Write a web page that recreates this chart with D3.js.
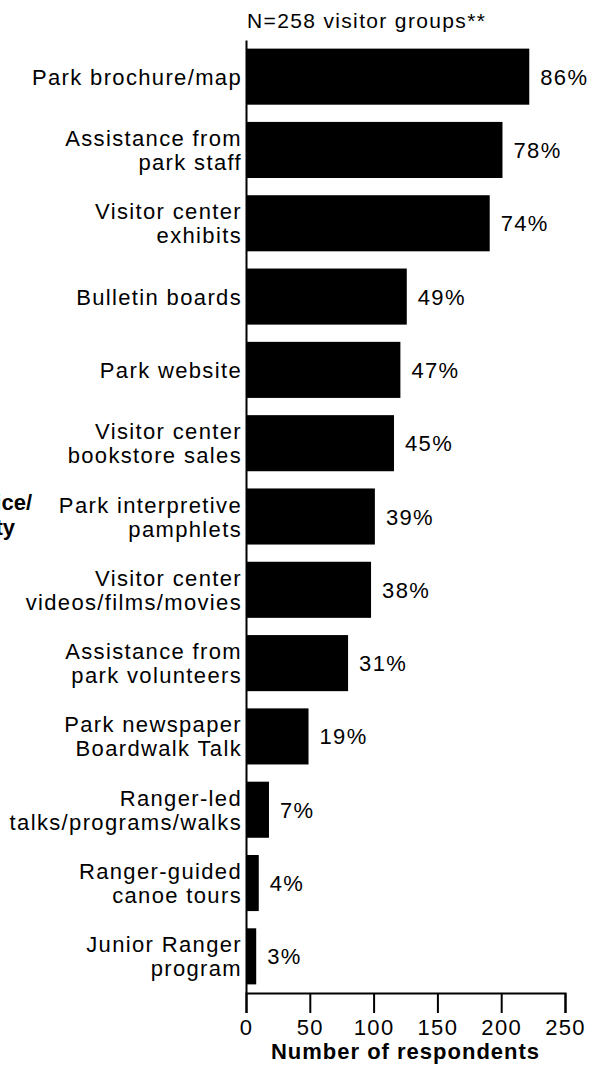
<!DOCTYPE html>
<html>
<head>
<meta charset="utf-8">
<script src="https://cdn.jsdelivr.net/npm/d3@7"></script>
<style>
html,body{margin:0;padding:0;background:#fff;}
svg{display:block;font-family:"Liberation Sans",Arial,Helvetica,sans-serif;}
</style>
</head>
<body>
<svg id="chart" width="590" height="1074"></svg>
<script>
const categories = [
  ["Park brochure/map"],
  ["Assistance from", "park staff"],
  ["Visitor center", "exhibits"],
  ["Bulletin boards"],
  ["Park website"],
  ["Visitor center", "bookstore sales"],
  ["Park interpretive", "pamphlets"],
  ["Visitor center", "videos/films/movies"],
  ["Assistance from", "park volunteers"],
  ["Park newspaper", "Boardwalk Talk"],
  ["Ranger-led", "talks/programs/walks"],
  ["Ranger-guided", "canoe tours"],
  ["Junior Ranger", "program"]
];
const counts = [222, 201, 191, 126, 121, 116, 101, 98, 80, 49, 18, 10, 8];
const percentLabels = ["86%", "78%", "74%", "49%", "47%", "45%", "39%", "38%", "31%", "19%", "7%", "4%", "3%"];
const xTicks = [0, 50, 100, 150, 200, 250];
const xTitle = "Number of respondents";
const yTitle = ["Service/", "facility"];
const note = "N=258 visitor groups**";

const svg = d3.select("#chart");
const x = d3.scaleLinear().domain([0, 250]).range([246, 565]);
const keys = categories.map((c, i) => i);
const y = d3.scaleBand().domain(keys).range([40, 993]).paddingInner(0.235).paddingOuter(0.1175);

const FS = 22;
const LS = "1.35px";
const LH = 24;

// bars
svg.selectAll("rect.bar").data(counts).join("rect")
  .attr("class", "bar")
  .attr("x", x(0))
  .attr("y", (d, i) => y(i))
  .attr("width", d => x(d) - x(0))
  .attr("height", y.bandwidth())
  .attr("fill", "#000");

// percent labels
svg.selectAll("text.pct").data(counts).join("text")
  .attr("class", "pct")
  .attr("x", d => x(d) + 11)
  .attr("y", (d, i) => y(i) + y.bandwidth() / 2 + 8)
  .attr("font-size", FS)
  .attr("letter-spacing", LS)
  .text((d, i) => percentLabels[i]);

// category labels
const lab = svg.selectAll("text.cat").data(categories).join("text")
  .attr("class", "cat")
  .attr("text-anchor", "end")
  .attr("font-size", FS)
  .attr("letter-spacing", LS);
lab.each(function(d, i) {
  const t = d3.select(this);
  const n = d.length;
  const c = y(i) + y.bandwidth() / 2 + 8 - (n - 1) * LH / 2;
  d.forEach((line, j) => {
    t.append("tspan")
      .attr("x", 242)
      .attr("y", c + j * LH)
      .text(line);
  });
});

// y axis line
const yAxis = d3.axisLeft(y).tickSize(0).tickFormat("");
svg.append("g").attr("transform", `translate(${x(0)},0)`).call(yAxis)
  .call(g => g.select(".domain").attr("stroke", "#000").attr("stroke-width", 2));

// x axis
const xAxis = d3.axisBottom(x).tickValues(xTicks).tickSize(20).tickSizeOuter(20).tickPadding(6);
svg.append("g").attr("transform", "translate(0,993)").call(xAxis)
  .call(g => {
    g.select(".domain").attr("stroke", "#000").attr("stroke-width", 2);
    g.selectAll(".tick line").attr("stroke", "#000").attr("stroke-width", 2);
    g.selectAll(".tick text").attr("font-size", FS).attr("fill", "#000")
      .attr("letter-spacing", LS)
      .attr("font-family", "'Liberation Sans',Arial,sans-serif");
  });

// x title
svg.append("text")
  .attr("x", (x(0) + x(250)) / 2).attr("y", 1059)
  .attr("text-anchor", "middle").attr("font-size", FS).attr("font-weight", "bold")
  .attr("letter-spacing", "1px")
  .text(xTitle);

// note
svg.append("text").attr("x", 247).attr("y", 28).attr("font-size", 21)
  .attr("letter-spacing", LS).text(note);

// y title (partially cropped at the left edge, as in the reference)
svg.append("text").attr("font-size", FS).attr("font-weight", "bold")
  .attr("text-anchor", "end")
  .selectAll("tspan").data(yTitle).join("tspan")
  .attr("x", (d, i) => i === 0 ? 32 : 15)
  .attr("y", (d, i) => 510 + i * 25)
  .text(d => d);
</script>
</body>
</html>
